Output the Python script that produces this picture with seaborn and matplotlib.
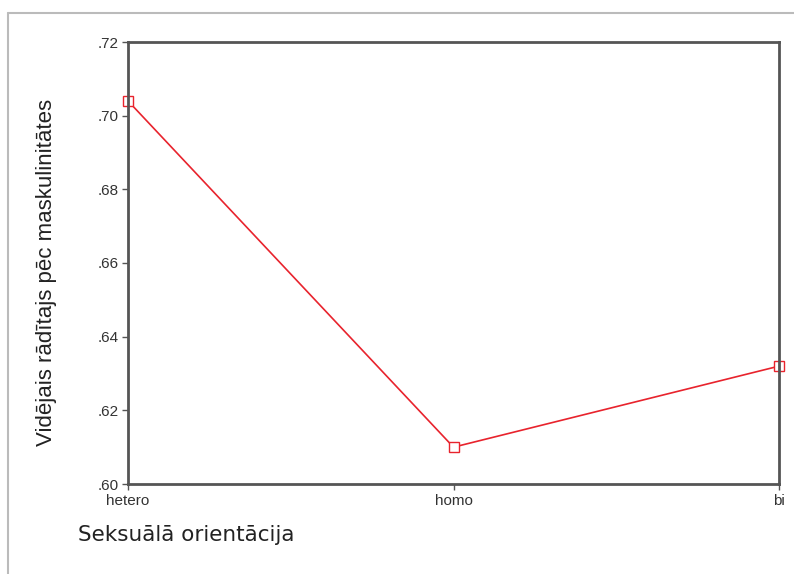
import matplotlib
matplotlib.use("Agg")
import matplotlib.pyplot as plt
import seaborn as sns
import pandas as pd
from matplotlib.lines import Line2D
from matplotlib.ticker import FuncFormatter

categories = ["hetero", "homo", "bi"]
means = [0.704, 0.610, 0.632]
y_ticks = [0.60, 0.62, 0.64, 0.66, 0.68, 0.70, 0.72]

df = pd.DataFrame({"orient": categories, "mean": means})

sns.set_theme(style="white")
plt.rcParams['font.family'] = ['Liberation Sans', 'DejaVu Sans']

fig = plt.figure(figsize=(7.94, 5.74), dpi=100)
ax = fig.add_axes([128/794, 1-484/574, (779-128)/794, (484-42)/574])

sns.lineplot(data=df, x="orient", y="mean", sort=False, ax=ax,
             color="#e8232d", linewidth=1.2, marker="s", markersize=7,
             markerfacecolor="white", markeredgecolor="#e8232d",
             markeredgewidth=1.0, clip_on=False)

ax.set_xlim(0, 2)
ax.set_ylim(0.60, 0.72)
ax.set_yticks(y_ticks)
ax.yaxis.set_major_formatter(FuncFormatter(lambda v, p: f"{v:.2f}".lstrip("0")))

for s in ax.spines.values():
    s.set_color("#555555")
    s.set_linewidth(2.0)

ax.tick_params(axis="both", which="major", direction="out", length=4, width=1,
               color="#555555", labelsize=11, labelcolor="#333333", pad=3,
               left=True, bottom=True)

ax.set_xlabel("Seksuālā orientācija", fontsize=15.5, color="#222222", ha="left",
              family="DejaVu Sans")
ax.xaxis.set_label_coords((78-128)/651, -(535-484)/442)
ax.xaxis.label.set_va("center")
ax.set_ylabel("Vidējais rādītajs pēc maskulinitātes", fontsize=16, color="#222222")
ax.yaxis.set_label_coords((47-128)/651, (484-272)/442)
ax.yaxis.label.set_va("center")

# outer frame lines (top and left)
fig.add_artist(Line2D([8/794, 1.0], [1-13/574, 1-13/574], color="#bbbbbb", lw=1.5, transform=fig.transFigure))
fig.add_artist(Line2D([8/794, 8/794], [0, 1-13/574], color="#bbbbbb", lw=1.5, transform=fig.transFigure))

fig.savefig("out.png", dpi=100)
